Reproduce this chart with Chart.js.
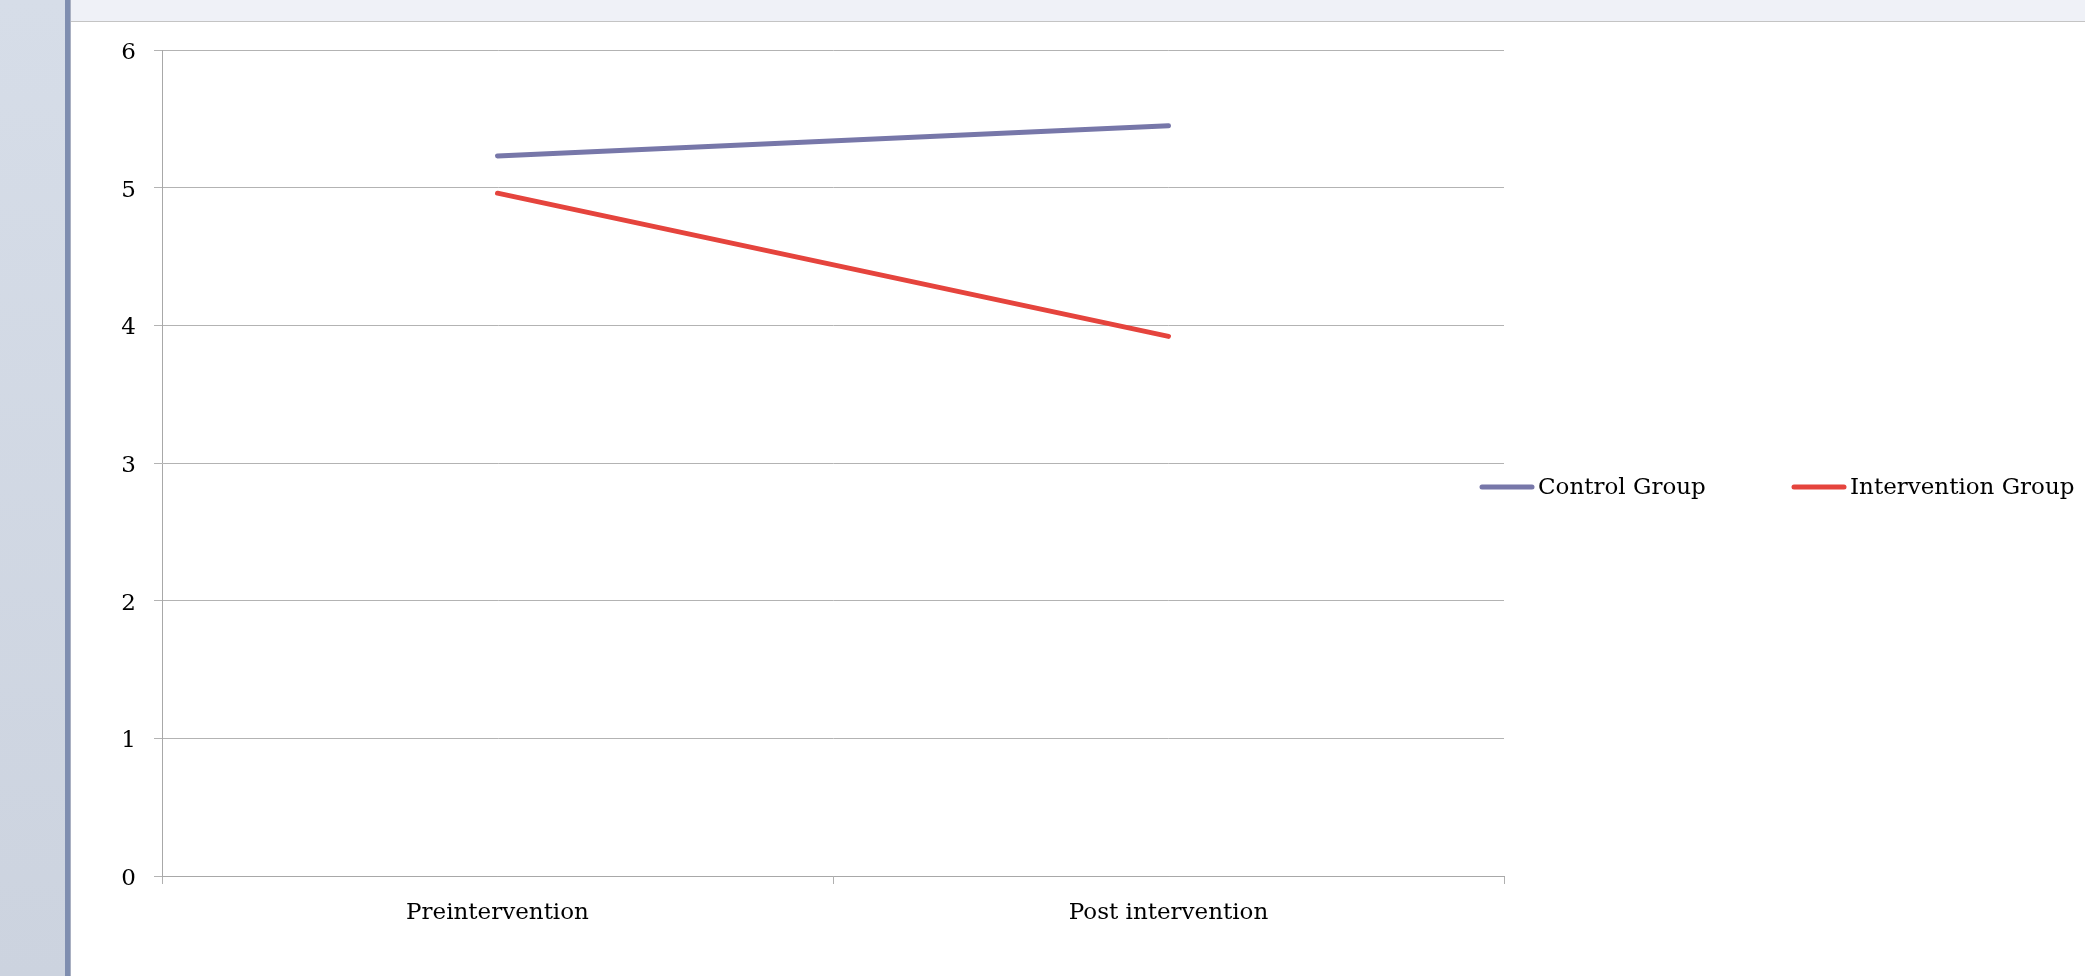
<!DOCTYPE html>
<html>
<head>
<meta charset="utf-8">
<title>Control vs Intervention Group</title>
<script src="https://cdn.jsdelivr.net/npm/chart.js@4.4.1/dist/chart.umd.min.js"></script>
<style>
  html, body { margin: 0; padding: 0; background: #ffffff; overflow: hidden; }
  body { width: 2085px; height: 976px; position: relative; }
  #sidebar {
    position: absolute; left: 0; top: 0; width: 65px; height: 976px;
    background: linear-gradient(#d6dde8, #ccd3df);
  }
  #sidebarEdge {
    position: absolute; left: 65px; top: 0; width: 5px; height: 976px;
    background: #7f8eb0;
  }
  #sidebarEdge2 {
    position: absolute; left: 70px; top: 0; width: 1px; height: 976px;
    background: #a9b0c2;
  }
  #topbar {
    position: absolute; left: 71px; top: 0; width: 2014px; height: 21px;
    background: #eff1f7; border-bottom: 1px solid #c4c4c4;
  }
  #chart { position: absolute; left: 0; top: 0; }
</style>
</head>
<body>
<div id="sidebar"></div>
<div id="sidebarEdge"></div>
<div id="sidebarEdge2"></div>
<div id="topbar"></div>
<canvas id="chart" width="2085" height="976"></canvas>
<script>
// Mean scores at the two measurement points
const categories = ['Preintervention', 'Post intervention'];
const controlGroup = [5.23, 5.45];
const interventionGroup = [4.96, 3.92];
const yTicks = [0, 1, 2, 3, 4, 5, 6];

const FONT = 'DejaVu Serif';

// Horizontal legend drawn to the right of the plot
const sideLegend = {
  id: 'sideLegend',
  afterDraw(chart) {
    const ctx = chart.ctx;
    const y = 487;
    const items = [
      { x: 1480 },
      { x: 1792 }
    ];
    ctx.save();
    chart.data.datasets.forEach((ds, i) => {
      const x0 = items[i].x;
      ctx.strokeStyle = ds.borderColor;
      ctx.lineWidth = 5;
      ctx.lineCap = 'round';
      ctx.beginPath();
      ctx.moveTo(x0 + 2, y);
      ctx.lineTo(x0 + 52, y);
      ctx.stroke();
      ctx.fillStyle = '#000000';
      ctx.font = '23px "' + FONT + '"';
      ctx.textBaseline = 'middle';
      ctx.textAlign = 'left';
      ctx.fillText(ds.label, x0 + 58, y + 1);
    });
    ctx.restore();
  }
};

new Chart(document.getElementById('chart'), {
  type: 'line',
  data: {
    labels: categories,
    datasets: [
      {
        label: 'Control Group',
        data: controlGroup,
        borderColor: '#7777a9',
        borderWidth: 5,
        borderCapStyle: 'round',
        pointRadius: 0,
        tension: 0,
        fill: false
      },
      {
        label: 'Intervention Group',
        data: interventionGroup,
        borderColor: '#e5443d',
        borderWidth: 5,
        borderCapStyle: 'round',
        pointRadius: 0,
        tension: 0,
        fill: false
      }
    ]
  },
  options: {
    responsive: false,
    animation: false,
    devicePixelRatio: 1,
    layout: { padding: { left: 0, top: 50, right: 581, bottom: 0 } },
    plugins: {
      legend: { display: false },
      tooltip: { enabled: false }
    },
    scales: {
      x: {
        type: 'category',
        offset: true,
        afterFit(scale) { scale.height = 100; },
        grid: {
          offset: true,
          drawOnChartArea: false,
          drawTicks: true,
          tickLength: 8,
          color: '#b0b0b0',
          lineWidth: 1
        },
        border: { display: true, color: '#a8a8a8', width: 1 },
        ticks: {
          color: '#000000',
          font: { family: FONT, size: 23 },
          padding: 15,
          maxRotation: 0
        }
      },
      y: {
        min: 0,
        max: 6,
        afterFit(scale) { scale.width = 162; },
        afterBuildTicks(scale) { scale.ticks = yTicks.map(v => ({ value: v })); },
        grid: {
          drawTicks: true,
          tickLength: 8,
          color: '#b3b3b3',
          lineWidth: 1
        },
        border: { display: true, color: '#a8a8a8', width: 1 },
        ticks: {
          color: '#000000',
          font: { family: FONT, size: 23 },
          padding: 18,
          labelOffset: 3
        }
      }
    }
  },
  plugins: [sideLegend]
});
</script>
</body>
</html>
